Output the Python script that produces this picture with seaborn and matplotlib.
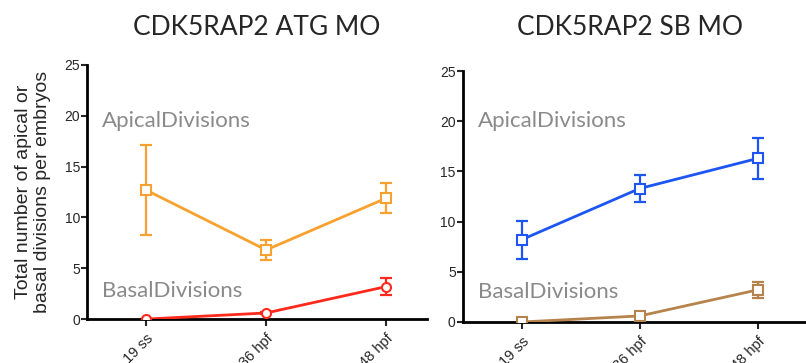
import matplotlib
matplotlib.use("Agg")
import matplotlib.pyplot as plt
import seaborn as sns
import pandas as pd

# Time points
stages = ["19 ss", "36 hpf", "48 hpf"]

# CDK5RAP2 ATG MO
atg_apical = [12.7, 6.8, 11.9]
atg_apical_err = [4.4, 1.0, 1.5]
atg_basal = [0.0, 0.6, 3.2]
atg_basal_err = [0.0, 0.1, 0.8]

# CDK5RAP2 SB MO
sb_apical = [8.2, 13.3, 16.3]
sb_apical_err = [1.9, 1.3, 2.0]
sb_basal = [0.0, 0.6, 3.2]
sb_basal_err = [0.0, 0.1, 0.8]

titles = ["CDK5RAP2 ATG MO", "CDK5RAP2 SB MO"]
ylabel = "Total number of apical or\nbasal divisions per embryos"

sns.set_theme(style="ticks")
plt.rcParams["font.family"] = ["Liberation Sans", "DejaVu Sans"]

fig = plt.figure(figsize=(8.06, 3.63), dpi=100)
ax1 = fig.add_axes([0.108, 0.121, 0.422, 0.700])
ax2 = fig.add_axes([0.574, 0.113, 0.426, 0.691])


def draw_panel(ax, apical, apical_err, basal, basal_err,
               c_ap, c_bas, m_ap, m_bas, xlim, ap_y, bas_y):
    x = list(range(len(stages)))
    for vals, errs, col, mk in [(apical, apical_err, c_ap, m_ap),
                                (basal, basal_err, c_bas, m_bas)]:
        df = pd.DataFrame({"x": x, "y": vals})
        ax.errorbar(x, vals, yerr=errs, fmt="none", ecolor=col,
                    elinewidth=1.6, capsize=4, capthick=1.6, zorder=2)
        sns.lineplot(data=df, x="x", y="y", ax=ax, color=col, lw=2.0,
                     marker=mk, markersize=6.5, markerfacecolor="white",
                     markeredgecolor=col, markeredgewidth=1.5, zorder=3)
    ax.set_xlim(*xlim)
    ax.set_ylim(0, 25)
    ax.set_yticks([0, 5, 10, 15, 20, 25])
    ax.set_xticks(x)
    ax.set_xticklabels(stages, rotation=45, ha="right",
                       rotation_mode="anchor", fontsize=10.5)
    ax.tick_params(axis="y", labelsize=10, length=4, width=1.5, pad=1,
                   direction="out")
    ax.tick_params(axis="x", length=5, width=1.5, pad=4, direction="out")
    ax.set_xlabel("")
    ax.set_ylabel("")
    for s in ["top", "right"]:
        ax.spines[s].set_visible(False)
    for s in ["left", "bottom"]:
        ax.spines[s].set_linewidth(2.0)
        ax.spines[s].set_color("black")
    ax.text(0.045, ap_y, "ApicalDivisions", transform=ax.transAxes,
            fontsize=16, color="#8a8a8a", family=["Lato", "DejaVu Sans"],
            va="center", ha="left")
    ax.text(0.045, bas_y, "BasalDivisions", transform=ax.transAxes,
            fontsize=16, color="#8a8a8a", family=["Lato", "DejaVu Sans"],
            va="center", ha="left")


draw_panel(ax1, atg_apical, atg_apical_err, atg_basal, atg_basal_err,
           "#F9A12E", "#FF2A1C", "s", "o", (-0.49, 2.34), 0.78, 0.11)
draw_panel(ax2, sb_apical, sb_apical_err, sb_basal, sb_basal_err,
           "#1C55F2", "#B7834C", "s", "s", (-0.5, 2.41), 0.80, 0.12)

ax1.set_ylabel(ylabel, fontsize=14, labelpad=10, linespacing=1.1)

fig.text(0.319, 0.925, titles[0], ha="center", va="center", fontsize=19,
         family=["Lato", "DejaVu Sans"])
fig.text(0.782, 0.925, titles[1], ha="center", va="center", fontsize=19,
         family=["Lato", "DejaVu Sans"])

fig.savefig("out.png", dpi=100)
